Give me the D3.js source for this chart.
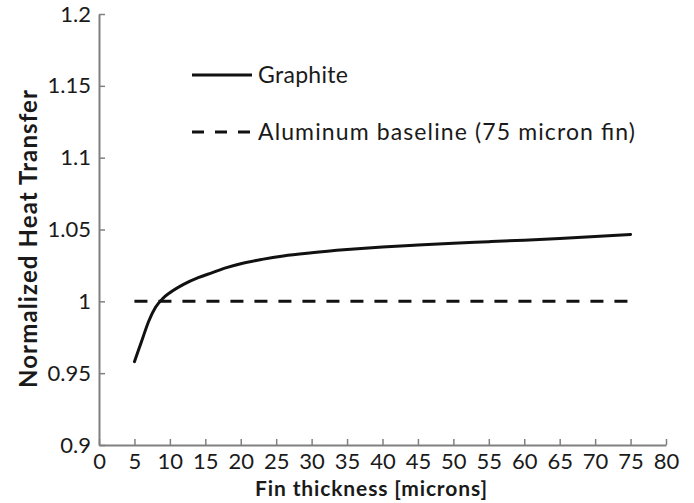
<!DOCTYPE html>
<html>
<head>
<meta charset="utf-8">
<script src="https://cdn.jsdelivr.net/npm/d3@7"></script>
<style>
  body { margin: 0; background: #fff; }
  svg text { font-family: Lato, "Open Sans", sans-serif; fill: #1a1a1a; }
</style>
</head>
<body>
<div id="chart"></div>
<script>
// graphite curve
const thickness = [5, 6, 7, 8, 9, 10, 12, 14, 16, 18, 20, 23, 26, 30, 35, 40, 45, 50, 55, 60, 65, 70, 75];
const heatTransfer = [0.958, 0.972, 0.986, 0.996, 1.002, 1.006, 1.012, 1.0165, 1.020, 1.0235, 1.0262, 1.0292, 1.0316, 1.0338, 1.036, 1.0378, 1.0392, 1.0404, 1.0415, 1.0426, 1.0438, 1.0451, 1.0466];
// aluminum baseline
const baselineX = [5, 75];
const baselineY = [1.0, 1.0];

const xTicks = d3.range(0, 81, 5);
const yTicks = [0.9, 0.95, 1, 1.05, 1.1, 1.15, 1.2];
const legendLabels = ['Graphite', 'Aluminum baseline (75 micron fin)'];

const W = 694, H = 503;
const margin = {top: 14, right: 28, bottom: 58, left: 99};

const svg = d3.select('#chart').append('svg')
    .attr('width', W)
    .attr('height', H);

const x = d3.scaleLinear().domain([0, 80]).range([margin.left, W - margin.right]);
const y = d3.scaleLinear().domain([0.9, 1.2]).range([H - margin.bottom, margin.top]);

// axes - ticks point inward
const xAxis = d3.axisBottom(x).tickValues(xTicks).tickSizeInner(-6).tickSizeOuter(0).tickPadding(8);
const yAxis = d3.axisLeft(y).tickValues(yTicks).tickSizeInner(-6).tickSizeOuter(0).tickPadding(8)
    .tickFormat(d => d3.format('')(+d.toFixed(2)));

const gx = svg.append('g')
    .attr('transform', 'translate(0,' + (H - margin.bottom) + ')')
    .call(xAxis);
const gy = svg.append('g')
    .attr('transform', 'translate(' + margin.left + ',0)')
    .call(yAxis);

[gx, gy].forEach(g => {
    g.select('.domain').attr('stroke', '#808080').attr('stroke-width', 2);
    g.selectAll('.tick line').attr('stroke', '#808080').attr('stroke-width', 1.5);
    g.selectAll('.tick text').style('font-size', '22px').attr('fill', '#1a1a1a');
});
gx.selectAll('.tick text').attr('dy', '0.71em');

// axis titles
svg.append('text')
    .attr('x', 255)
    .attr('y', 496)
    .attr('textLength', 232)
    .attr('lengthAdjust', 'spacing')
    .style('font-size', '21px')
    .style('font-weight', 'bold')
    .text('Fin thickness [microns]');

svg.append('text')
    .attr('transform', 'translate(37,388) rotate(-90)')
    .attr('textLength', 298)
    .attr('lengthAdjust', 'spacing')
    .style('font-size', '24px')
    .style('font-weight', 'bold')
    .text('Normalized Heat Transfer');

// lines
const line = d3.line()
    .x(d => x(d[0]))
    .y(d => y(d[1]))
    .curve(d3.curveMonotoneX);

svg.append('path')
    .datum(d3.zip(baselineX, baselineY))
    .attr('fill', 'none')
    .attr('stroke', '#111')
    .attr('stroke-width', 3)
    .attr('stroke-dasharray', '13,11')
    .attr('d', line);

svg.append('path')
    .datum(d3.zip(thickness, heatTransfer))
    .attr('fill', 'none')
    .attr('stroke', '#111')
    .attr('stroke-width', 3)
    .attr('stroke-linecap', 'round')
    .attr('d', line);

// legend
const legend = svg.append('g');
const legendY = [75, 132];
const legendW = [90, 377];
legendLabels.forEach((lab, i) => {
    legend.append('line')
        .attr('x1', 192).attr('x2', 252)
        .attr('y1', legendY[i]).attr('y2', legendY[i])
        .attr('stroke', '#111')
        .attr('stroke-width', 3)
        .attr('stroke-dasharray', i === 1 ? '12,11' : null);
    legend.append('text')
        .attr('x', 258)
        .attr('y', legendY[i] + 8)
        .attr('textLength', legendW[i])
        .attr('lengthAdjust', 'spacing')
        .style('font-size', '23px')
        .text(lab);
});
</script>
</body>
</html>
